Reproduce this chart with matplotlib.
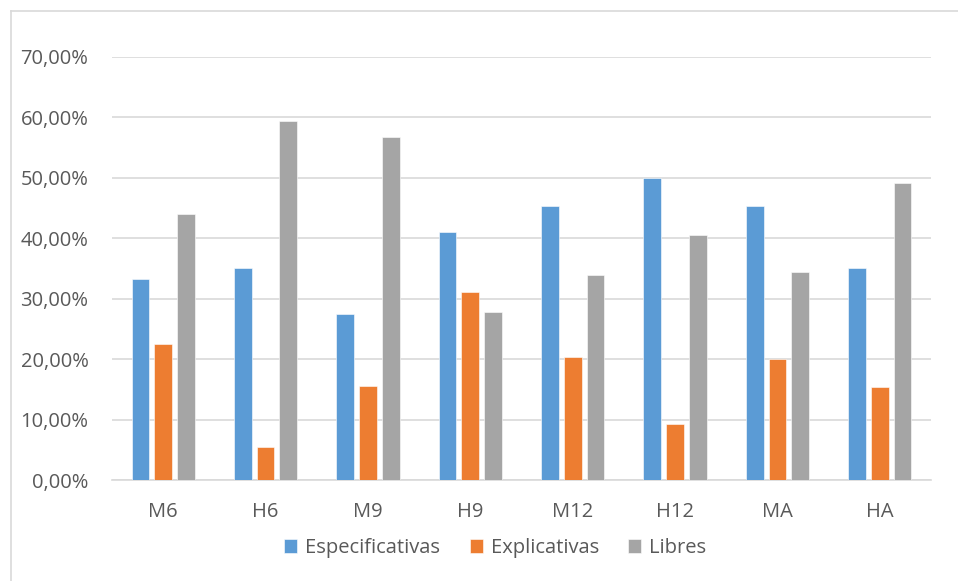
import numpy as np
import matplotlib.pyplot as plt
from matplotlib.lines import Line2D

categories = ['M6', 'H6', 'M9', 'H9', 'M12', 'H12', 'MA', 'HA']
especificativas = [33.3, 35.1, 27.4, 41.0, 45.4, 50.0, 45.4, 35.1]
explicativas = [22.5, 5.4, 15.6, 31.1, 20.3, 9.3, 20.0, 15.4]
libres = [44.0, 59.4, 56.8, 27.8, 34.0, 40.6, 34.5, 49.2]
series_names = ['Especificativas', 'Explicativas', 'Libres']
y_ticks = [0, 10, 20, 30, 40, 50, 60, 70]

colors = ['#5b9bd5', '#ed7d31', '#a5a5a5']
text_color = '#595959'
grid_color = '#d9d9d9'

plt.rcParams['font.family'] = ['Open Sans', 'DejaVu Sans']

fig = plt.figure(figsize=(9.58, 5.81), dpi=100)
ax = fig.add_axes([0.1169, 0.1738, 0.9718 - 0.1169, 0.9019 - 0.1738])

x = np.arange(len(categories))
width = 0.173
step = 0.222
for i, (vals, name) in enumerate(zip([especificativas, explicativas, libres], series_names)):
    ax.bar(x + (i - 1) * step, vals, width, color=colors[i], label=name,
           edgecolor='white', linewidth=0.4, zorder=3)

ax.set_xlim(-0.5, len(categories) - 0.5)
ax.set_ylim(0, 70)
ax.set_yticks(y_ticks)
ax.set_yticklabels([f'{v:.2f}%'.replace('.', ',') for v in y_ticks])
ax.set_xticks(x)
ax.set_xticklabels(categories)
ax.yaxis.grid(True, color=grid_color, linewidth=1.2, zorder=0)
ax.set_axisbelow(True)
for s in ['top', 'right', 'left']:
    ax.spines[s].set_visible(False)
ax.spines['bottom'].set_color(grid_color)
ax.spines['bottom'].set_linewidth(1.2)
ax.tick_params(axis='both', length=0, labelsize=14.5, colors=text_color)
ax.tick_params(axis='y', pad=17)
ax.tick_params(axis='x', pad=16)

leg = fig.legend(loc='center', bbox_to_anchor=(0.517, 0.057), ncol=3, frameon=False,
                 fontsize=14.5, handlelength=0.65, handleheight=0.65, columnspacing=1.45,
                 handletextpad=0.4)
for t in leg.get_texts():
    t.set_color(text_color)

# chart area border (left and top edges visible)
fig.add_artist(Line2D([10.5 / 958, 10.5 / 958], [0, 1 - 11 / 581], transform=fig.transFigure,
                      color=grid_color, linewidth=1.2))
fig.add_artist(Line2D([10.5 / 958, 1], [1 - 11 / 581, 1 - 11 / 581], transform=fig.transFigure,
                      color=grid_color, linewidth=1.2))

fig.savefig('out.png', dpi=100)
